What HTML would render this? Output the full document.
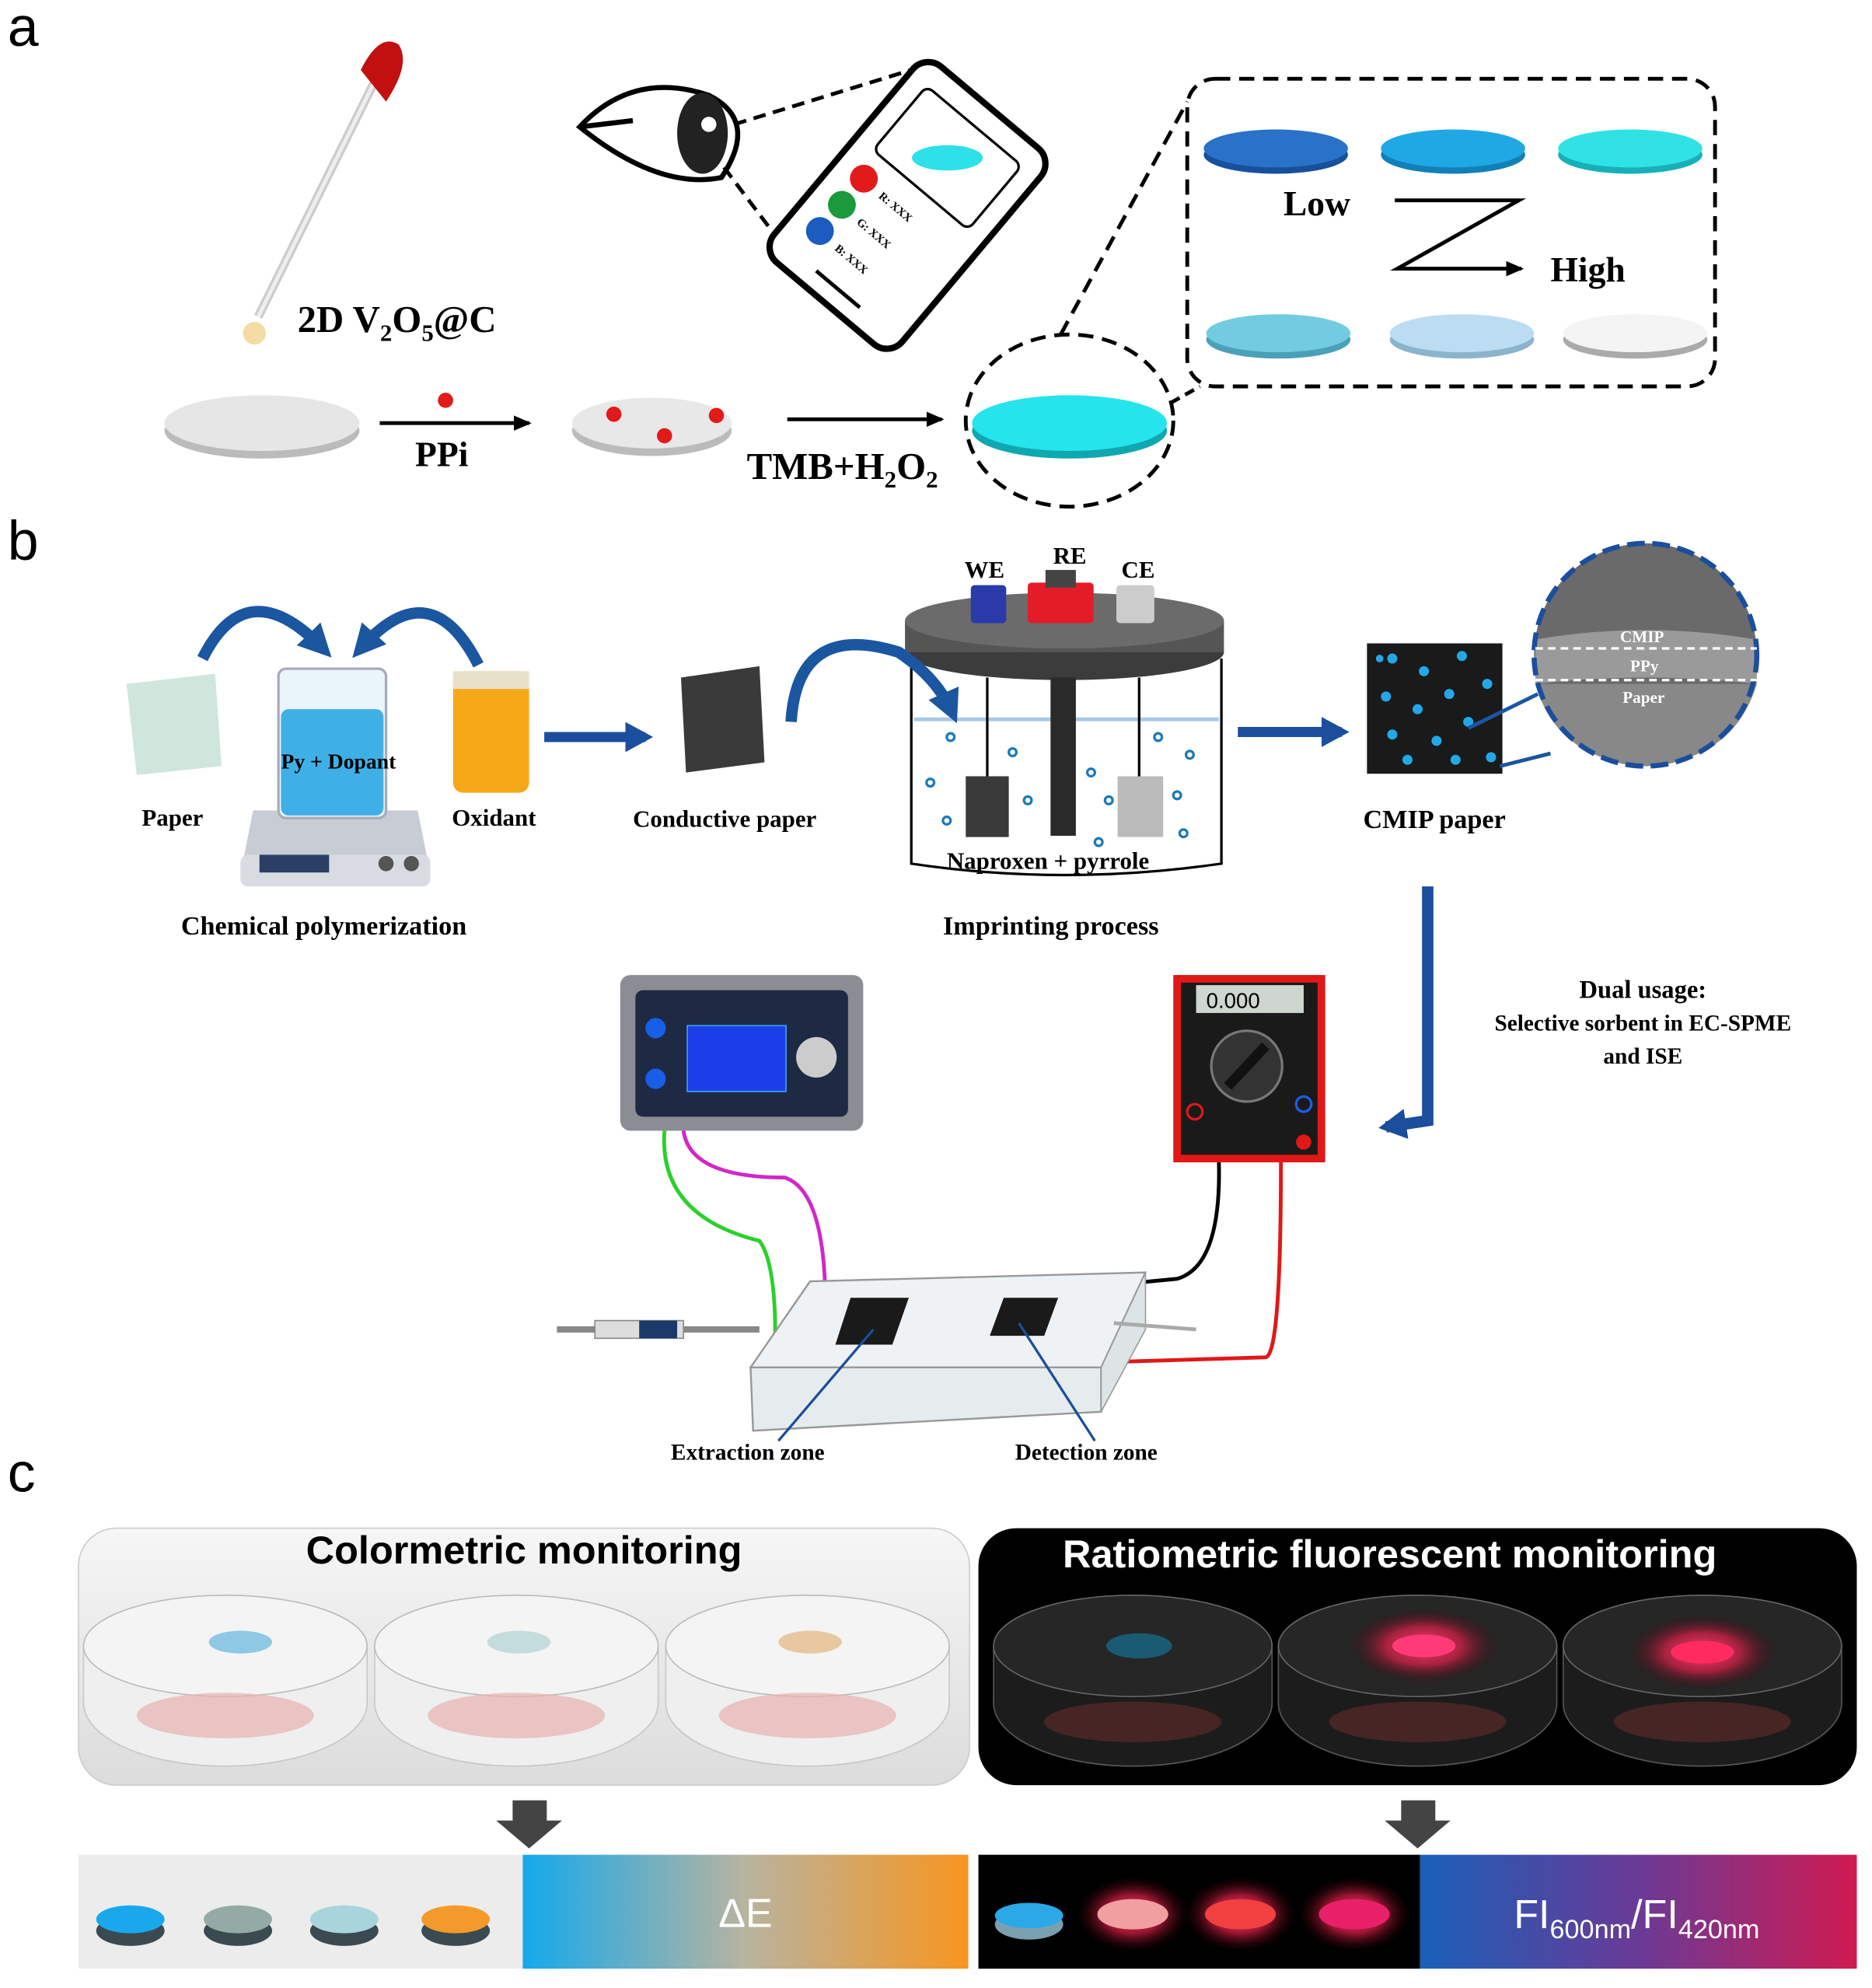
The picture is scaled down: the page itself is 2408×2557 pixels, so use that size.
<!DOCTYPE html>
<html><head><meta charset="utf-8"><style>
html,body{margin:0;padding:0;background:#fff}
svg{display:block}
.s{font-family:"Liberation Serif",serif;font-weight:bold}
.a{font-family:"Liberation Sans",sans-serif}
</style></head><body>
<svg width="2408" height="2557" viewBox="0 0 1479 1570" xmlns="http://www.w3.org/2000/svg">
<defs>
<linearGradient id="g1" x1="0" x2="1"><stop offset="0" stop-color="#14a9ec"/><stop offset="0.5" stop-color="#b8b3a0"/><stop offset="1" stop-color="#f8951f"/></linearGradient>
<linearGradient id="g2" x1="0" x2="1"><stop offset="0" stop-color="#1a5fb8"/><stop offset="0.5" stop-color="#6a3a96"/><stop offset="1" stop-color="#d01a52"/></linearGradient>
<linearGradient id="g3" x1="0" y1="0" x2="0" y2="1"><stop offset="0" stop-color="#f6f6f6"/><stop offset="1" stop-color="#dcdcdc"/></linearGradient>
<radialGradient id="glow"><stop offset="0" stop-color="#ff4070"/><stop offset="0.5" stop-color="#e0204a" stop-opacity="0.7"/><stop offset="1" stop-color="#300" stop-opacity="0"/></radialGradient>
<marker id="ar" markerUnits="userSpaceOnUse" markerWidth="14" markerHeight="12" refX="12" refY="6" orient="auto"><path d="M0,0 L14,6 L0,12z" fill="#000"/></marker>
<marker id="ab" markerUnits="userSpaceOnUse" markerWidth="26" markerHeight="26" refX="16" refY="13" orient="auto"><path d="M0,0 L26,13 L0,26z" fill="#1b56a0"/></marker>
<marker id="an" markerUnits="userSpaceOnUse" markerWidth="22" markerHeight="24" refX="16" refY="12" orient="auto"><path d="M0,0 L22,12 L0,24z" fill="#1b4e9c"/></marker>
</defs>

<!-- panel a -->
<text x="6" y="36" class="a" font-size="44">a</text>
<line x1="298" y1="60" x2="204" y2="250" stroke="#ccc" stroke-width="7"/>
<line x1="298" y1="60" x2="204" y2="250" stroke="#eee" stroke-width="3"/>
<path d="M285,55 Q300,25 315,35 Q325,50 305,80z" fill="#c21010"/>
<circle cx="201" cy="263" r="9" fill="#f4dca4"/>
<text x="235" y="262" class="s" font-size="30">2D V<tspan font-size="19" dy="7">2</tspan><tspan dy="-7">O</tspan><tspan font-size="19" dy="7">5</tspan><tspan dy="-7">@C</tspan></text>
<ellipse cx="207" cy="340" rx="77" ry="22" fill="#bbb"/><ellipse cx="207" cy="334" rx="77" ry="22" fill="#e6e6e6"/>
<line x1="300" y1="334" x2="418" y2="334" stroke="#000" stroke-width="3" marker-end="url(#ar)"/>
<circle cx="352" cy="316" r="6" fill="#e21a1a"/>
<text x="328" y="368" class="s" font-size="28">PPi</text>
<ellipse cx="515" cy="340" rx="63" ry="20" fill="#bbb"/><ellipse cx="515" cy="334" rx="63" ry="20" fill="#e8e8e8"/>
<circle cx="485" cy="327" r="6" fill="#e21a1a"/><circle cx="525" cy="344" r="6" fill="#e21a1a"/><circle cx="566" cy="328" r="6" fill="#e21a1a"/>
<line x1="622" y1="331" x2="744" y2="331" stroke="#000" stroke-width="3" marker-end="url(#ar)"/>
<text x="590" y="378" class="s" font-size="30">TMB+H<tspan font-size="19" dy="7">2</tspan><tspan dy="-7">O</tspan><tspan font-size="19" dy="7">2</tspan></text>
<ellipse cx="845" cy="340" rx="77" ry="22" fill="#0fa8b0"/><ellipse cx="845" cy="334" rx="77" ry="22" fill="#25e4ec"/>
<ellipse cx="845" cy="332" rx="82" ry="68" fill="none" stroke="#000" stroke-width="3" stroke-dasharray="12,7"/>
<rect x="938" y="62" width="417" height="243" rx="22" fill="none" stroke="#000" stroke-width="3" stroke-dasharray="12,7"/>
<line x1="838" y1="264" x2="938" y2="80" stroke="#000" stroke-width="3" stroke-dasharray="12,7"/>
<line x1="925" y1="318" x2="948" y2="305" stroke="#000" stroke-width="3" stroke-dasharray="8,5"/>
<g>
<ellipse cx="1008" cy="122" rx="57" ry="15" fill="#17509c"/><ellipse cx="1008" cy="117" rx="57" ry="15" fill="#2a72c8"/>
<ellipse cx="1148" cy="122" rx="57" ry="15" fill="#1280b8"/><ellipse cx="1148" cy="117" rx="57" ry="15" fill="#1fa8e4"/>
<ellipse cx="1288" cy="122" rx="57" ry="15" fill="#18b0b8"/><ellipse cx="1288" cy="117" rx="57" ry="15" fill="#30e2e4"/>
<ellipse cx="1010" cy="268" rx="57" ry="15" fill="#4aa0b8"/><ellipse cx="1010" cy="263" rx="57" ry="15" fill="#72cce0"/>
<ellipse cx="1155" cy="268" rx="57" ry="15" fill="#8ab4cc"/><ellipse cx="1155" cy="263" rx="57" ry="15" fill="#bcdcf2"/>
<ellipse cx="1292" cy="268" rx="57" ry="15" fill="#aaa"/><ellipse cx="1292" cy="263" rx="57" ry="15" fill="#f4f4f4"/>
</g>
<text x="1014" y="170" class="s" font-size="28">Low</text>
<path d="M1102,158 L1200,158 L1104,212 L1202,212" fill="none" stroke="#000" stroke-width="3" marker-end="url(#ar)"/>
<text x="1225" y="222" class="s" font-size="28">High</text>
<!-- eye -->
<path d="M458,100 Q500,55 560,75 Q600,95 570,140 Q520,150 458,100z" fill="#fff" stroke="#000" stroke-width="4"/>
<path d="M458,100 L500,95" stroke="#000" stroke-width="4"/>
<ellipse cx="555" cy="105" rx="20" ry="32" fill="#222"/>
<circle cx="560" cy="98" r="6" fill="#fff"/>
<line x1="580" y1="98" x2="720" y2="55" stroke="#000" stroke-width="3" stroke-dasharray="10,6"/>
<line x1="572" y1="132" x2="612" y2="185" stroke="#000" stroke-width="3" stroke-dasharray="10,6"/>
<!-- phone -->
<g transform="rotate(40 717 162)">
<rect x="651" y="61" width="132" height="202" rx="16" fill="#fff" stroke="#000" stroke-width="5"/>
<rect x="668" y="80" width="98" height="66" rx="6" fill="#fff" stroke="#000" stroke-width="2"/>
<ellipse cx="717" cy="113" rx="28" ry="10" fill="#2ee0e8" transform="rotate(-40 717 113)"/>
<circle cx="677" cy="168" r="11" fill="#e21a1a"/><circle cx="677" cy="195" r="11" fill="#1a9a3a"/><circle cx="677" cy="222" r="11" fill="#1a5cc0"/>
<text x="695" y="172" class="s" font-size="9">R: XXX</text><text x="695" y="199" class="s" font-size="9">G: XXX</text><text x="695" y="226" class="s" font-size="9">B: XXX</text>
<line x1="695" y1="248" x2="740" y2="248" stroke="#000" stroke-width="3"/>
</g>

<!-- panel b -->
<text x="6" y="442" class="a" font-size="44">b</text>
<polygon points="100,540 170,532 175,605 108,612" fill="#cfe6dc"/>
<path d="M160,520 Q195,450 255,512" fill="none" stroke="#1b56a0" stroke-width="9" marker-end="url(#ab)"/>
<path d="M378,525 Q340,450 285,512" fill="none" stroke="#1b56a0" stroke-width="9" marker-end="url(#ab)"/>
<polygon points="200,640 330,640 340,690 190,690" fill="#c8ccd4"/>
<rect x="190" y="675" width="150" height="25" rx="6" fill="#d8dce2"/>
<rect x="205" y="675" width="55" height="14" fill="#2a3e66"/>
<circle cx="305" cy="682" r="6" fill="#555"/><circle cx="325" cy="682" r="6" fill="#555"/>
<rect x="220" y="528" width="85" height="118" rx="6" fill="#eaf4fb" stroke="#aab" stroke-width="2"/>
<rect x="222" y="560" width="81" height="84" rx="6" fill="#3fb0e6"/>
<text x="222" y="607" class="s" font-size="17">Py + Dopant</text>
<rect x="358" y="530" width="60" height="96" rx="8" fill="#f6a818"/>
<rect x="358" y="530" width="60" height="14" fill="#e8e0c8"/>
<text x="112" y="652" class="s" font-size="19">Paper</text>
<text x="357" y="652" class="s" font-size="19">Oxidant</text>
<text x="143" y="738" class="s" font-size="21">Chemical polymerization</text>
<line x1="430" y1="582" x2="510" y2="582" stroke="#1b4e9c" stroke-width="8" marker-end="url(#an)"/>
<polygon points="538,535 600,526 604,602 542,610" fill="#3a3a3a"/>
<text x="500" y="653" class="s" font-size="19">Conductive paper</text>
<!-- cell -->
<path d="M720,520 L720,682 Q840,700 965,682 L965,520" fill="#fff" stroke="#000" stroke-width="2"/>
<line x1="722" y1="568" x2="963" y2="568" stroke="#a8c8e8" stroke-width="3"/>
<ellipse cx="841" cy="515" rx="126" ry="22" fill="#3c3c3c"/>
<rect x="715" y="490" width="252" height="25" fill="#555"/>
<ellipse cx="841" cy="490" rx="126" ry="22" fill="#6b6b6b"/>
<rect x="767" y="462" width="28" height="30" rx="3" fill="#2a3aa8"/>
<rect x="812" y="460" width="52" height="32" rx="3" fill="#e41c28"/>
<rect x="826" y="450" width="24" height="14" fill="#444"/>
<rect x="882" y="462" width="30" height="30" rx="3" fill="#ccc"/>
<text x="762" y="456" class="s" font-size="19">WE</text><text x="832" y="445" class="s" font-size="19">RE</text><text x="886" y="456" class="s" font-size="19">CE</text>
<line x1="780" y1="535" x2="780" y2="615" stroke="#000" stroke-width="2"/>
<rect x="763" y="613" width="34" height="48" fill="#3a3a3a"/>
<rect x="830" y="535" width="20" height="125" fill="#2a2a2a"/>
<line x1="900" y1="535" x2="900" y2="615" stroke="#000" stroke-width="2"/>
<rect x="883" y="613" width="36" height="48" fill="#bbb"/>
<g fill="none" stroke="#1a7ab8" stroke-width="2">
<circle cx="751" cy="582" r="3"/><circle cx="800" cy="594" r="3"/><circle cx="735" cy="618" r="3"/><circle cx="812" cy="632" r="3"/><circle cx="748" cy="648" r="3"/><circle cx="862" cy="610" r="3"/><circle cx="876" cy="632" r="3"/><circle cx="915" cy="582" r="3"/><circle cx="940" cy="596" r="3"/><circle cx="930" cy="628" r="3"/><circle cx="935" cy="658" r="3"/><circle cx="868" cy="665" r="3"/>
</g>
<path d="M625,570 Q630,490 710,515 Q740,535 752,562" fill="none" stroke="#1b56a0" stroke-width="9" marker-end="url(#ab)"/>
<text x="748" y="686" class="s" font-size="19">Naproxen + pyrrole</text>
<text x="745" y="738" class="s" font-size="21">Imprinting process</text>
<line x1="978" y1="578" x2="1060" y2="578" stroke="#1b4e9c" stroke-width="8" marker-end="url(#an)"/>
<rect x="1080" y="508" width="107" height="103" fill="#1a1a1a"/>
<g fill="#22a8e8">
<circle cx="1100" cy="520" r="4"/><circle cx="1125" cy="530" r="4"/><circle cx="1155" cy="518" r="4"/><circle cx="1175" cy="540" r="4"/><circle cx="1095" cy="550" r="4"/><circle cx="1120" cy="560" r="4"/><circle cx="1145" cy="548" r="4"/><circle cx="1160" cy="570" r="4"/><circle cx="1100" cy="580" r="4"/><circle cx="1135" cy="585" r="4"/><circle cx="1178" cy="598" r="4"/><circle cx="1112" cy="600" r="4"/><circle cx="1150" cy="600" r="4"/><circle cx="1090" cy="520" r="3"/>
</g>
<line x1="1160" y1="575" x2="1215" y2="548" stroke="#1b56a0" stroke-width="3"/>
<line x1="1185" y1="605" x2="1225" y2="595" stroke="#1b56a0" stroke-width="3"/>
<circle cx="1300" cy="517" r="88" fill="#6a6a6a"/>
<path d="M1213,505 Q1300,490 1388,505 L1388,540 Q1300,530 1213,540z" fill="#9a9a9a"/>
<path d="M1213,540 L1388,540 Q1370,600 1300,605 Q1230,600 1213,540z" fill="#888"/>
<circle cx="1300" cy="517" r="88" fill="none" stroke="#1b4e9c" stroke-width="4" stroke-dasharray="14,6"/>
<line x1="1213" y1="512" x2="1388" y2="512" stroke="#fff" stroke-width="2" stroke-dasharray="6,4"/>
<line x1="1213" y1="537" x2="1388" y2="537" stroke="#fff" stroke-width="2" stroke-dasharray="6,4"/>
<text x="1280" y="507" class="s" font-size="13" fill="#fff">CMIP</text>
<text x="1288" y="530" class="s" font-size="13" fill="#fff">PPy</text>
<text x="1282" y="555" class="s" font-size="13" fill="#fff">Paper</text>
<text x="1077" y="654" class="s" font-size="21">CMIP paper</text>
<path d="M1128,700 L1128,885 L1095,890" fill="none" stroke="#1b4e9c" stroke-width="9" marker-end="url(#an)"/>
<text x="1298" y="788" class="s" font-size="20" text-anchor="middle">Dual usage:</text>
<text x="1298" y="814" class="s" font-size="18" text-anchor="middle">Selective sorbent in EC-SPME</text>
<text x="1298" y="840" class="s" font-size="18" text-anchor="middle">and ISE</text>
<!-- power supply -->
<rect x="490" y="770" width="192" height="123" rx="8" fill="#8a8e94"/>
<rect x="502" y="782" width="168" height="100" rx="6" fill="#1e2a44"/>
<rect x="543" y="810" width="78" height="52" fill="#1a3ee8" stroke="#3fa0ff"/>
<circle cx="518" cy="812" r="8" fill="#1a5ee8"/><circle cx="518" cy="852" r="8" fill="#1a5ee8"/>
<circle cx="645" cy="835" r="16" fill="#ccc"/>
<!-- multimeter -->
<rect x="927" y="770" width="120" height="148" fill="#e01818"/>
<rect x="933" y="776" width="108" height="136" fill="#1a1a1a"/>
<rect x="945" y="778" width="85" height="22" fill="#cfd6d0"/>
<text x="953" y="796" class="a" font-size="17">0.000</text>
<circle cx="985" cy="842" r="28" fill="#333" stroke="#777" stroke-width="2"/>
<line x1="970" y1="858" x2="1000" y2="826" stroke="#111" stroke-width="8"/>
<circle cx="944" cy="878" r="6" fill="none" stroke="#e01818" stroke-width="2"/>
<circle cx="1030" cy="872" r="6" fill="none" stroke="#1a5ee8" stroke-width="2"/>
<circle cx="1030" cy="902" r="6" fill="#e01818"/>
<!-- wires -->
<path d="M525,893 Q520,960 600,980 Q615,1000 612,1080" fill="none" stroke="#2cd02c" stroke-width="3"/>
<path d="M540,893 Q545,930 620,930 Q650,940 652,1020" fill="none" stroke="#d028c8" stroke-width="3"/>
<path d="M963,918 Q965,1000 930,1010 L878,1015" fill="none" stroke="#000" stroke-width="3"/>
<path d="M1012,918 Q1012,1070 1000,1072 L868,1076" fill="none" stroke="#e01818" stroke-width="3"/>
<!-- device -->
<polygon points="593,1080 640,1012 905,1005 870,1080" fill="#eef2f4" stroke="#999" stroke-width="1.5"/>
<polygon points="593,1080 870,1080 870,1115 595,1130" fill="#e6ecee" stroke="#999" stroke-width="1.5"/>
<polygon points="870,1080 905,1005 905,1050 870,1115" fill="#dde4e6" stroke="#999"/>
<polygon points="672,1025 718,1025 705,1062 660,1062" fill="#1a1a1a"/>
<polygon points="793,1025 836,1025 825,1055 782,1055" fill="#1a1a1a"/>
<line x1="440" y1="1050" x2="600" y2="1050" stroke="#888" stroke-width="5"/>
<rect x="470" y="1043" width="70" height="14" fill="#ddd" stroke="#888"/>
<rect x="505" y="1043" width="30" height="14" fill="#1a3a6a"/>
<line x1="880" y1="1045" x2="945" y2="1050" stroke="#aaa" stroke-width="3"/>
<line x1="690" y1="1050" x2="615" y2="1138" stroke="#1b4e9c" stroke-width="2"/>
<line x1="805" y1="1045" x2="865" y2="1138" stroke="#1b4e9c" stroke-width="2"/>
<text x="530" y="1153" class="s" font-size="18">Extraction zone</text>
<text x="802" y="1153" class="s" font-size="18">Detection zone</text>

<!-- panel c -->
<text x="6" y="1178" class="a" font-size="44">c</text>
<rect x="62" y="1207" width="704" height="203" rx="30" fill="url(#g3)" stroke="#ccc"/>
<text x="414" y="1235" class="a" font-size="31" font-weight="bold" text-anchor="middle">Colormetric monitoring</text>
<rect x="773" y="1207" width="694" height="203" rx="30" fill="#000"/>
<text x="1098" y="1238" class="a" font-size="31" font-weight="bold" text-anchor="middle" fill="#fff">Ratiometric fluorescent monitoring</text>
<g>
<g id="dish">
<ellipse cx="178" cy="1345" rx="112" ry="50" fill="#e8e8e8" stroke="#bbb"/>
<path d="M66,1300 L66,1345 A112,50 0 0 0 290,1345 L290,1300" fill="#efefef" stroke="#c8c8c8"/>
<ellipse cx="178" cy="1300" rx="112" ry="40" fill="#f4f4f4" stroke="#bbb"/>
<ellipse cx="178" cy="1355" rx="70" ry="18" fill="#e8b0b0" opacity="0.7"/>
</g>
<ellipse cx="190" cy="1297" rx="25" ry="9" fill="#8ec8e4"/>
<use href="#dish" x="230"/><ellipse cx="410" cy="1297" rx="25" ry="9" fill="#c4dcdc"/>
<use href="#dish" x="460"/><ellipse cx="640" cy="1297" rx="25" ry="9" fill="#e8c8a0"/>
</g>
<g>
<g id="dish2">
<ellipse cx="895" cy="1345" rx="110" ry="50" fill="#2a2a2a" stroke="#555"/>
<path d="M785,1300 L785,1345 A110,50 0 0 0 1005,1345 L1005,1300" fill="#1c1c1c" stroke="#555"/>
<ellipse cx="895" cy="1300" rx="110" ry="40" fill="#262626" stroke="#666"/>
<ellipse cx="895" cy="1360" rx="70" ry="16" fill="#5a2a2a" opacity="0.7"/>
</g>
<ellipse cx="900" cy="1300" rx="26" ry="10" fill="#1a5a72"/>
<use href="#dish2" x="225"/><ellipse cx="1125" cy="1300" rx="60" ry="30" fill="url(#glow)"/><ellipse cx="1125" cy="1300" rx="25" ry="9" fill="#ff3a78"/>
<use href="#dish2" x="450"/><ellipse cx="1345" cy="1305" rx="60" ry="30" fill="url(#glow)"/><ellipse cx="1345" cy="1305" rx="25" ry="9" fill="#ff2a60"/>
</g>
<polygon points="405,1422 432,1422 432,1438 444,1438 418,1460 392,1438 405,1438" fill="#444"/>
<polygon points="1107,1422 1134,1422 1134,1438 1146,1438 1120,1460 1094,1438 1107,1438" fill="#444"/>
<rect x="62" y="1465" width="351" height="90" fill="#ececec"/>
<rect x="413" y="1465" width="352" height="90" fill="url(#g1)"/>
<text x="589" y="1522" class="a" font-size="32" fill="#fff" text-anchor="middle">ΔE</text>
<g>
<ellipse cx="103" cy="1525" rx="27" ry="12" fill="#3a4a50"/><ellipse cx="103" cy="1516" rx="27" ry="11" fill="#1aa8ec"/>
<ellipse cx="188" cy="1525" rx="27" ry="12" fill="#3a4a50"/><ellipse cx="188" cy="1516" rx="27" ry="11" fill="#94aaa4"/>
<ellipse cx="272" cy="1525" rx="27" ry="12" fill="#3a4a50"/><ellipse cx="272" cy="1516" rx="27" ry="11" fill="#a8d4dc"/>
<ellipse cx="360" cy="1525" rx="27" ry="12" fill="#3a4a50"/><ellipse cx="360" cy="1516" rx="27" ry="11" fill="#f49a2a"/>
</g>
<rect x="773" y="1465" width="349" height="90" fill="#000"/>
<ellipse cx="813" cy="1520" rx="27" ry="12" fill="#7aa0b0"/><ellipse cx="813" cy="1513" rx="27" ry="10" fill="#2aa8e8"/>
<ellipse cx="895" cy="1512" rx="45" ry="30" fill="url(#glow)"/><ellipse cx="895" cy="1512" rx="28" ry="12" fill="#f0a0a0"/>
<ellipse cx="980" cy="1512" rx="45" ry="30" fill="url(#glow)"/><ellipse cx="980" cy="1512" rx="28" ry="12" fill="#f04040"/>
<ellipse cx="1070" cy="1512" rx="45" ry="30" fill="url(#glow)"/><ellipse cx="1070" cy="1512" rx="28" ry="12" fill="#e8206a"/>
<rect x="1122" y="1465" width="345" height="90" fill="url(#g2)"/>
<text x="1196" y="1523" class="a" font-size="32" fill="#fff">FI<tspan font-size="21" dy="8">600nm</tspan><tspan dy="-8">/FI</tspan><tspan font-size="21" dy="8">420nm</tspan></text>
</svg>
</body></html>
